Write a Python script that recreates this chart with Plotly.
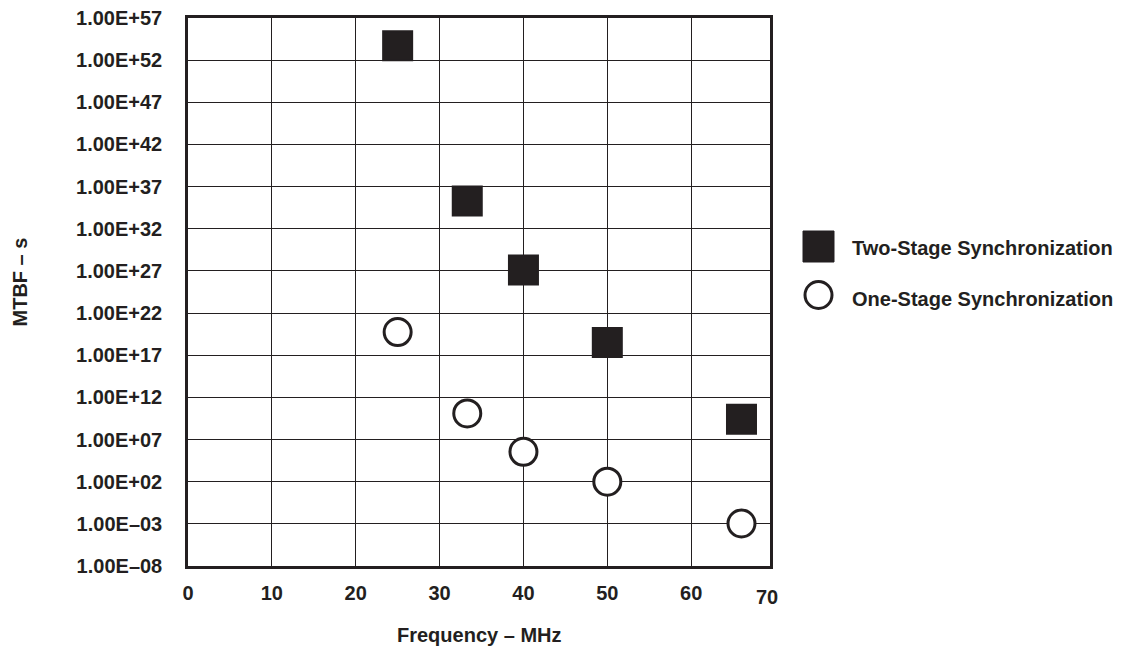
import plotly.graph_objects as go

# ---- data ----
freq_two_stage = [25, 33.3, 40, 50, 66]            # MHz
mtbf_two_stage = [5.0e53, 2.0e35, 1.3e27, 3.2e18, 2.5e9]   # s
freq_one_stage = [25, 33.3, 40, 50, 66]            # MHz
mtbf_one_stage = [5.6e19, 1.26e10, 3.5e5, 1.0e2, 1.1e-3]   # s

x_tick_vals = [0, 10, 20, 30, 40, 50, 60]
x_tick_text = ["0", "10", "20", "30", "40", "50", "60"]
x_last_label = "70"
y_tick_exps = [-8, -3, 2, 7, 12, 17, 22, 27, 32, 37, 42, 47, 52, 57]
y_tick_text = ["1.00E–08", "1.00E–03", "1.00E+02", "1.00E+07", "1.00E+12",
               "1.00E+17", "1.00E+22", "1.00E+27", "1.00E+32", "1.00E+37",
               "1.00E+42", "1.00E+47", "1.00E+52", "1.00E+57"]
series_names = ["Two-Stage Synchronization", "One-Stage Synchronization"]
x_title = "Frequency – MHz"
y_title = "MTBF – s"

# ---- styling / layout ----
INK = "#231f20"
FONT = "Liberation Sans"
W, H = 1133, 648
ML, MR, MT, MB = 188, 363, 18, 82
PW, PH = W - ML - MR, H - MT - MB


def px(xp):
    return (xp - ML) / PW


def py(yp):
    return (H - MB - yp) / PH


fig = go.Figure()
fig.add_trace(go.Scatter(
    x=freq_two_stage, y=mtbf_two_stage, mode="markers", name=series_names[0],
    marker=dict(symbol="square", size=29, color=INK, line=dict(color=INK, width=2)),
    showlegend=False, cliponaxis=False, hoverinfo="skip"))
fig.add_trace(go.Scatter(
    x=freq_one_stage, y=mtbf_one_stage, mode="markers", name=series_names[1],
    marker=dict(symbol="circle", size=27, color="white", line=dict(color=INK, width=3)),
    showlegend=False, cliponaxis=False, hoverinfo="skip"))

tickfont = dict(family=FONT, size=20, color=INK, weight="bold")
labelfont = dict(family=FONT, size=20, color=INK, weight="bold")

fig.update_layout(
    template="none",
    width=W, height=H,
    margin=dict(l=ML, r=MR, t=MT, b=MB, autoexpand=False),
    paper_bgcolor="white", plot_bgcolor="white",
    font=dict(family=FONT, color=INK),
    showlegend=False,
    xaxis=dict(range=[0, 69.4], tickvals=x_tick_vals, ticktext=x_tick_text,
               automargin=False,
               showgrid=True, gridcolor=INK, gridwidth=1.2, zeroline=False,
               showline=True, linecolor=INK, linewidth=2.5, mirror=True,
               ticks="", tickfont=tickfont, ticklabelstandoff=7),
    yaxis=dict(type="log", range=[-8, 57],
               tickvals=[10.0 ** e for e in y_tick_exps], ticktext=y_tick_text,
               automargin=False,
               showgrid=True, gridcolor=INK, gridwidth=1.2, zeroline=False,
               showline=True, linecolor=INK, linewidth=2.5, mirror=True,
               ticks="", tickfont=tickfont, ticklabelstandoff=19),
)

annotations = [
    dict(text=x_last_label, xref="x", x=69.0, yref="paper", y=py(597),
         showarrow=False, xanchor="center", yanchor="middle", font=tickfont),
    dict(text=x_title, xref="paper", x=px(479), yref="paper", y=py(635),
         showarrow=False, xanchor="center", yanchor="middle", font=labelfont),
    dict(text=y_title, xref="paper", x=px(19.5), yref="paper", y=py(282),
         showarrow=False, xanchor="center", yanchor="middle", textangle=-90,
         font=labelfont),
    dict(text=series_names[0], xref="paper", x=px(850), yref="paper", y=py(248),
         showarrow=False, xanchor="left", yanchor="middle", font=labelfont),
    dict(text=series_names[1], xref="paper", x=px(850), yref="paper", y=py(299),
         showarrow=False, xanchor="left", yanchor="middle", font=labelfont),
]
fig.update_layout(annotations=annotations)

shapes = [
    dict(type="rect", xref="paper", yref="paper",
         x0=px(803), x1=px(834), y0=py(262), y1=py(231),
         fillcolor=INK, line=dict(color=INK, width=1)),
    dict(type="circle", xref="paper", yref="paper",
         x0=px(805), x1=px(832), y0=py(308.5), y1=py(281.5),
         fillcolor="white", line=dict(color=INK, width=3)),
]
fig.update_layout(shapes=shapes)

fig.write_html("out.html", config={"displayModeBar": False},
               post_script="document.body.style.margin='0';document.body.style.overflow='hidden';")
